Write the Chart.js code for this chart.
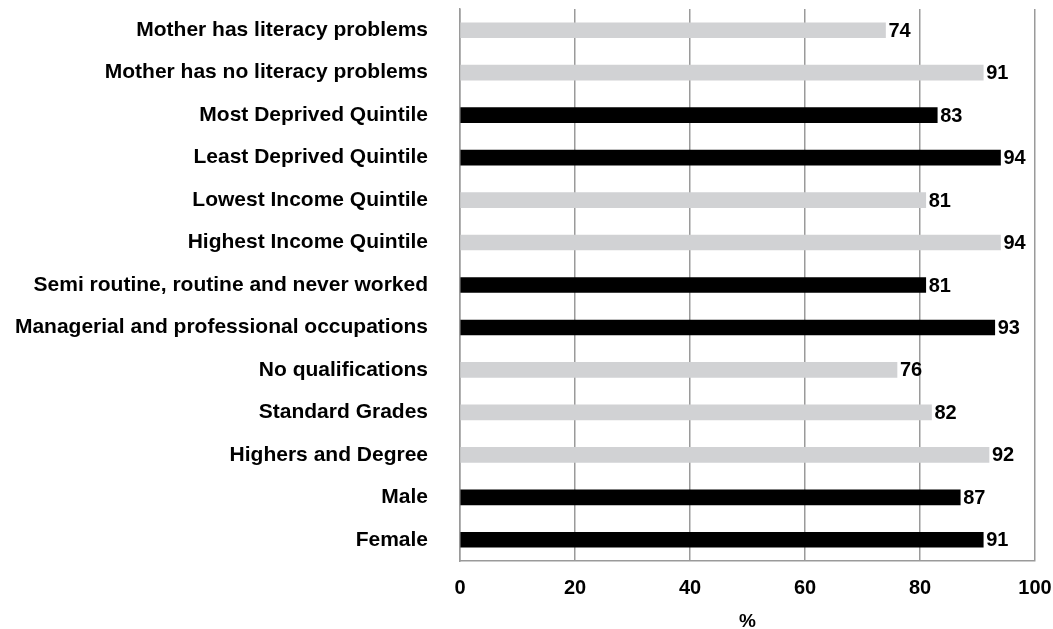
<!DOCTYPE html>
<html>
<head>
<meta charset="utf-8">
<script src="https://cdn.jsdelivr.net/npm/chart.js@4"></script>
<style>
  html, body { margin: 0; padding: 0; background: #fff; }
  #wrap { width: 1053px; height: 629px; }
</style>
</head>
<body>
<div id="wrap"><canvas id="myChart"></canvas></div>
<script>
    const categories = [
        'Mother has literacy problems',
        'Mother has no literacy problems',
        'Most Deprived Quintile',
        'Least Deprived Quintile',
        'Lowest Income Quintile',
        'Highest Income Quintile',
        'Semi routine, routine and never worked',
        'Managerial and professional occupations',
        'No qualifications',
        'Standard Grades',
        'Highers and Degree',
        'Male',
        'Female'
    ]
    const values = [74, 91, 83, 94, 81, 94, 81, 93, 76, 82, 92, 87, 91]
    // g = grey group, k = black group
    const groups = ['g', 'g', 'k', 'k', 'g', 'g', 'k', 'k', 'g', 'g', 'g', 'k', 'k']
    const xTicks = [0, 20, 40, 60, 80, 100]

    const GREY = '#d1d2d4'
    const BLACK = '#000000'
    const FONT = '"Liberation Sans", Arial, Helvetica, sans-serif'
    const FONT_SIZE = 21

    // value labels at the end of each bar
    const valueLabels = {
        id: 'valueLabels',
        afterDatasetsDraw(chart) {
            const ctx = chart.ctx
            const meta = chart.getDatasetMeta(0)
            ctx.save()
            ctx.font = `bold ${FONT_SIZE - 1}px ${FONT}`
            ctx.fillStyle = '#000'
            ctx.textAlign = 'left'
            ctx.textBaseline = 'middle'
            meta.data.forEach((bar, i) => {
                ctx.fillText(String(values[i]), bar.x + 3, bar.y + 1)
            })
            ctx.restore()
        }
    }

    const ctx = document.getElementById('myChart').getContext('2d')
    const chart = new Chart(ctx, {
        type: 'bar',
        data: {
            labels: categories,
            datasets: [{
                data: values,
                backgroundColor: groups.map(g => g === 'k' ? BLACK : GREY),
                borderWidth: 0,
                barThickness: 15
            }]
        },
        options: {
            indexAxis: 'y',
            responsive: true,
            maintainAspectRatio: false,
            animation: false,
            layout: { padding: { top: 9, right: 18, bottom: 0, left: 0 } },
            plugins: {
                legend: { display: false },
                tooltip: { enabled: false }
            },
            scales: {
                x: {
                    min: 0,
                    max: 100,
                    afterBuildTicks: (scale) => {
                        scale.ticks = xTicks.map(v => ({ value: v }))
                    },
                    grid: {
                        color: '#9a9a9a',
                        lineWidth: 1.5,
                        drawTicks: false
                    },
                    border: { color: '#9a9a9a', width: 1.5 },
                    ticks: {
                        color: '#000',
                        padding: 15,
                        font: { family: FONT, size: FONT_SIZE - 1, weight: 'bold' }
                    },
                    title: {
                        display: true,
                        text: '%',
                        color: '#000',
                        padding: { top: 4, bottom: -4 },
                        font: { family: FONT, size: FONT_SIZE - 2, weight: 'bold' }
                    },
                    afterFit: (scale) => {
                        scale.height = 68
                        scale.paddingLeft = 0
                        scale.paddingRight = 0
                    }
                },
                y: {
                    grid: { display: false, drawTicks: false },
                    border: { color: '#9a9a9a', width: 1.5 },
                    ticks: {
                        color: '#000',
                        padding: 32,
                        font: { family: FONT, size: FONT_SIZE, weight: 'bold' }
                    },
                    afterFit: (scale) => {
                        scale.width = 460
                        scale.paddingTop = 0
                        scale.paddingBottom = 0
                    }
                }
            }
        },
        plugins: [valueLabels]
    })
</script>
</body>
</html>
